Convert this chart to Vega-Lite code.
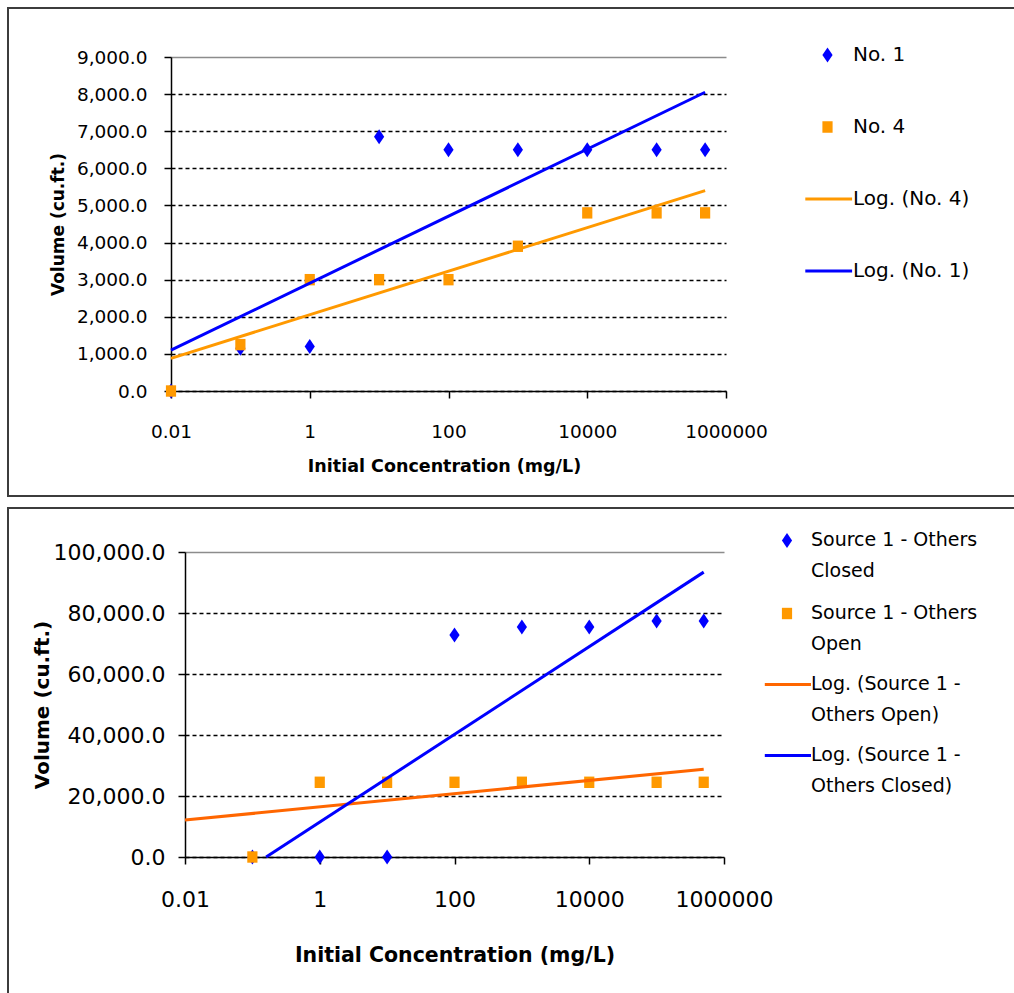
{
  "$schema": "https://vega.github.io/schema/vega-lite/v6.json",
  "background": "white",
  "padding": {"left": 7, "top": 7, "right": 0, "bottom": 0},
  "spacing": 10,
  "resolve": {
    "scale": {"fill": "independent", "stroke": "independent", "shape": "independent"},
    "legend": {"fill": "independent", "stroke": "independent", "shape": "independent"}
  },
  "config": {
    "view": {"stroke": "#3c3c3c", "strokeWidth": 2},
    "axis": {"domainColor": "black", "domainWidth": 1.5, "tickColor": "black", "tickWidth": 1.5, "tickSize": 7, "labelColor": "black", "titleColor": "black", "labelFont": "DejaVu Sans", "titleFont": "DejaVu Sans", "titleFontWeight": "bold", "zindex": 1, "labelOverlap": false, "labelFlush": false},
    "legend": {"labelFont": "DejaVu Sans", "labelColor": "black", "symbolStrokeWidth": 3, "symbolOpacity": 1, "labelLimit": 400}
  },
  "vconcat": [
    {
      "width": 1012,
      "height": 488,
      "encoding": {
        "x": {"field": "c", "type": "quantitative",
          "scale": {"type": "log", "domain": [0.01, 1000000], "range": [163, 718]},
          "axis": {"orient": "bottom", "offset": -105, "values": [0.01, 1, 100, 10000, 1000000],
            "labelExpr": "datum.value < 1 ? '0.01' : format(datum.value, 'd')",
            "labelFontSize": 18.5, "labelPadding": 24,
            "title": "Initial Concentration (mg/L)", "titleFontSize": 17.5, "titleX": 436, "titleY": 75, "titleBaseline": "middle",
            "grid": false}},
        "y": {"field": "v", "type": "quantitative",
          "scale": {"domain": [0, 9000], "range": [383, 49], "nice": false, "zero": false},
          "axis": {"orient": "left", "offset": -163, "values": [0, 1000, 2000, 3000, 4000, 5000, 6000, 7000, 8000, 9000],
            "format": ",.1f", "labelFontSize": 18.5, "labelPadding": 17,
            "title": "Volume (cu.ft.)", "titleFontSize": 17, "titleX": -113, "titleBaseline": "middle",
            "grid": true, "gridWidth": 1.5,
            "gridColor": {"condition": {"test": "datum.value >= 9000", "value": "#8c8c8c"}, "value": "black"},
            "gridDash": {"condition": {"test": "datum.value >= 9000", "value": []}, "value": [4, 3]}}}
      },
      "layer": [
        {
          "data": {"values": [{"frame": "plot"}]},
          "mark": {"type": "rect", "fill": "transparent", "stroke": "#8c8c8c", "strokeWidth": 1.5},
          "encoding": {
            "x": {"datum": 0.01}, "x2": {"datum": 1000000},
            "y": {"datum": 0}, "y2": {"datum": 9000}
          }
        },
        {
          "data": {"values": [
            {"c": 0.01, "v": 0, "s": "No. 1"},
            {"c": 0.1, "v": 1150, "s": "No. 1"},
            {"c": 1, "v": 1200, "s": "No. 1"},
            {"c": 10, "v": 6850, "s": "No. 1"},
            {"c": 100, "v": 6500, "s": "No. 1"},
            {"c": 1000, "v": 6500, "s": "No. 1"},
            {"c": 10000, "v": 6500, "s": "No. 1"},
            {"c": 100000, "v": 6500, "s": "No. 1"},
            {"c": 500000, "v": 6500, "s": "No. 1"},
            {"c": 0.01, "v": 0, "s": "No. 4"},
            {"c": 0.1, "v": 1250, "s": "No. 4"},
            {"c": 1, "v": 3000, "s": "No. 4"},
            {"c": 10, "v": 3000, "s": "No. 4"},
            {"c": 100, "v": 3000, "s": "No. 4"},
            {"c": 1000, "v": 3900, "s": "No. 4"},
            {"c": 10000, "v": 4800, "s": "No. 4"},
            {"c": 100000, "v": 4800, "s": "No. 4"},
            {"c": 500000, "v": 4800, "s": "No. 4"}
          ]},
          "mark": {"type": "point", "filled": true, "opacity": 1, "size": 144},
          "encoding": {
            "fill": {"field": "s", "type": "nominal",
              "scale": {"domain": ["No. 1", "No. 4", "Log. (No. 4)", "Log. (No. 1)"], "range": ["#0000FF", "#FF9900", "transparent", "transparent"]},
              "legend": {"orient": "none", "legendX": 787.5, "legendY": 35, "title": null, "symbolSize": 144, "symbolOffset": 22, "labelFontSize": 20, "labelOffset": 15.5, "rowPadding": 48, "clipHeight": 24}},
            "shape": {"field": "s", "type": "nominal",
              "scale": {"domain": ["No. 1", "No. 4", "Log. (No. 4)", "Log. (No. 1)"], "range": ["M0,-1.25L0.85,0L0,1.25L-0.85,0Z", "M-0.85,-0.95H0.85V0.95H-0.85Z", "M-3.7,0H4.1", "M-3.7,0H4.1"]},
              "legend": {"orient": "none", "legendX": 787.5, "legendY": 35, "title": null, "symbolSize": 144, "symbolOffset": 22, "labelFontSize": 20, "labelOffset": 15.5, "rowPadding": 48, "clipHeight": 24}}
          }
        },
        {
          "data": {"values": [
            {"c": 0.01, "v": 880, "s": "Log. (No. 4)"},
            {"c": 500000, "v": 5400, "s": "Log. (No. 4)"},
            {"c": 0.01, "v": 1100, "s": "Log. (No. 1)"},
            {"c": 500000, "v": 8050, "s": "Log. (No. 1)"}
          ]},
          "mark": {"type": "line", "strokeWidth": 3},
          "encoding": {
            "stroke": {"field": "s", "type": "nominal",
              "scale": {"domain": ["No. 1", "No. 4", "Log. (No. 4)", "Log. (No. 1)"], "range": ["transparent", "transparent", "#FF9900", "#0000FF"]},
              "legend": {"orient": "none", "legendX": 787.5, "legendY": 35, "title": null, "symbolSize": 144, "symbolOffset": 22, "labelFontSize": 20, "labelOffset": 15.5, "rowPadding": 48, "clipHeight": 24}}
          }
        }
      ]
    },
    {
      "width": 1012,
      "height": 490,
      "encoding": {
        "x": {"field": "c", "type": "quantitative",
          "scale": {"type": "log", "domain": [0.01, 1000000], "range": [177, 716]},
          "axis": {"orient": "bottom", "offset": -141, "values": [0.01, 1, 100, 10000, 1000000],
            "labelExpr": "datum.value < 1 ? '0.01' : format(datum.value, 'd')",
            "labelFontSize": 22, "labelPadding": 25,
            "title": "Initial Concentration (mg/L)", "titleFontSize": 20.5, "titleY": 98, "titleBaseline": "middle",
            "grid": false}},
        "y": {"field": "v", "type": "quantitative",
          "scale": {"domain": [0, 100000], "range": [349, 44], "nice": false, "zero": false},
          "axis": {"orient": "left", "offset": -177, "values": [0, 20000, 40000, 60000, 80000, 100000],
            "format": ",.1f", "labelFontSize": 22, "labelPadding": 13,
            "title": "Volume (cu.ft.)", "titleFontSize": 20, "titleX": -143, "titleBaseline": "middle",
            "grid": true, "gridWidth": 1.5,
            "gridColor": {"condition": {"test": "datum.value >= 100000", "value": "#8c8c8c"}, "value": "black"},
            "gridDash": {"condition": {"test": "datum.value >= 100000", "value": []}, "value": [4, 3]}}}
      },
      "layer": [
        {
          "data": {"values": [{"frame": "plot"}]},
          "mark": {"type": "rect", "fill": "transparent", "stroke": "#8c8c8c", "strokeWidth": 1.5},
          "encoding": {
            "x": {"datum": 0.01}, "x2": {"datum": 1000000},
            "y": {"datum": 0}, "y2": {"datum": 100000}
          }
        },
        {
          "data": {"values": [
            {"c": 0.1, "v": 0, "s": "Source 1 - Others Closed"},
            {"c": 1, "v": 0, "s": "Source 1 - Others Closed"},
            {"c": 10, "v": 0, "s": "Source 1 - Others Closed"},
            {"c": 100, "v": 72800, "s": "Source 1 - Others Closed"},
            {"c": 1000, "v": 75400, "s": "Source 1 - Others Closed"},
            {"c": 10000, "v": 75400, "s": "Source 1 - Others Closed"},
            {"c": 100000, "v": 77400, "s": "Source 1 - Others Closed"},
            {"c": 500000, "v": 77400, "s": "Source 1 - Others Closed"},
            {"c": 0.1, "v": 0, "s": "Source 1 - Others Open"},
            {"c": 1, "v": 24500, "s": "Source 1 - Others Open"},
            {"c": 10, "v": 24500, "s": "Source 1 - Others Open"},
            {"c": 100, "v": 24500, "s": "Source 1 - Others Open"},
            {"c": 1000, "v": 24500, "s": "Source 1 - Others Open"},
            {"c": 10000, "v": 24500, "s": "Source 1 - Others Open"},
            {"c": 100000, "v": 24500, "s": "Source 1 - Others Open"},
            {"c": 500000, "v": 24500, "s": "Source 1 - Others Open"}
          ]},
          "mark": {"type": "point", "filled": true, "opacity": 1, "size": 144},
          "encoding": {
            "fill": {"field": "s", "type": "nominal",
              "scale": {"domain": ["Source 1 - Others Closed", "Source 1 - Others Open", "Log. (Source 1 - Others Open)", "Log. (Source 1 - Others Closed)"], "range": ["#0000FF", "#FF9900", "transparent", "transparent"]},
              "legend": {"orient": "none", "legendX": 769.5, "legendY": 23, "title": null, "symbolSize": 144, "labelFontSize": 19, "labelOffset": 14.5, "rowPadding": 20, "labelBaseline": "top",
                "labelExpr": "datum.label == 'Source 1 - Others Closed' ? ['Source 1 - Others', 'Closed'] : datum.label == 'Source 1 - Others Open' ? ['Source 1 - Others', 'Open'] : datum.label == 'Log. (Source 1 - Others Open)' ? ['Log. (Source 1 -', 'Others Open)'] : ['Log. (Source 1 -', 'Others Closed)']",
                "encode": {"labels": {"update": {"lineHeight": {"value": 31}, "dy": {"value": -10}}}}}},
            "shape": {"field": "s", "type": "nominal",
              "scale": {"domain": ["Source 1 - Others Closed", "Source 1 - Others Open", "Log. (Source 1 - Others Open)", "Log. (Source 1 - Others Closed)"], "range": ["M0,-1.25L0.85,0L0,1.25L-0.85,0Z", "M-0.85,-0.95H0.85V0.95H-0.85Z", "M-3.7,0H4", "M-3.7,0H4"]},
              "legend": {"orient": "none", "legendX": 769.5, "legendY": 23, "title": null, "symbolSize": 144, "labelFontSize": 19, "labelOffset": 14.5, "rowPadding": 20, "labelBaseline": "top",
                "labelExpr": "datum.label == 'Source 1 - Others Closed' ? ['Source 1 - Others', 'Closed'] : datum.label == 'Source 1 - Others Open' ? ['Source 1 - Others', 'Open'] : datum.label == 'Log. (Source 1 - Others Open)' ? ['Log. (Source 1 -', 'Others Open)'] : ['Log. (Source 1 -', 'Others Closed)']",
                "encode": {"labels": {"update": {"lineHeight": {"value": 31}, "dy": {"value": -10}}}}}}
          }
        },
        {
          "data": {"values": [
            {"c": 0.01, "v": 12100, "s": "Log. (Source 1 - Others Open)"},
            {"c": 500000, "v": 28800, "s": "Log. (Source 1 - Others Open)"},
            {"c": 0.16, "v": 0, "s": "Log. (Source 1 - Others Closed)"},
            {"c": 500000, "v": 93400, "s": "Log. (Source 1 - Others Closed)"}
          ]},
          "mark": {"type": "line", "strokeWidth": 3},
          "encoding": {
            "stroke": {"field": "s", "type": "nominal",
              "scale": {"domain": ["Source 1 - Others Closed", "Source 1 - Others Open", "Log. (Source 1 - Others Open)", "Log. (Source 1 - Others Closed)"], "range": ["transparent", "transparent", "#FF6600", "#0000FF"]},
              "legend": {"orient": "none", "legendX": 769.5, "legendY": 23, "title": null, "symbolSize": 144, "labelFontSize": 19, "labelOffset": 14.5, "rowPadding": 20, "labelBaseline": "top",
                "labelExpr": "datum.label == 'Source 1 - Others Closed' ? ['Source 1 - Others', 'Closed'] : datum.label == 'Source 1 - Others Open' ? ['Source 1 - Others', 'Open'] : datum.label == 'Log. (Source 1 - Others Open)' ? ['Log. (Source 1 -', 'Others Open)'] : ['Log. (Source 1 -', 'Others Closed)']",
                "encode": {"labels": {"update": {"lineHeight": {"value": 31}, "dy": {"value": -10}}}}}}
          }
        }
      ]
    }
  ]
}
